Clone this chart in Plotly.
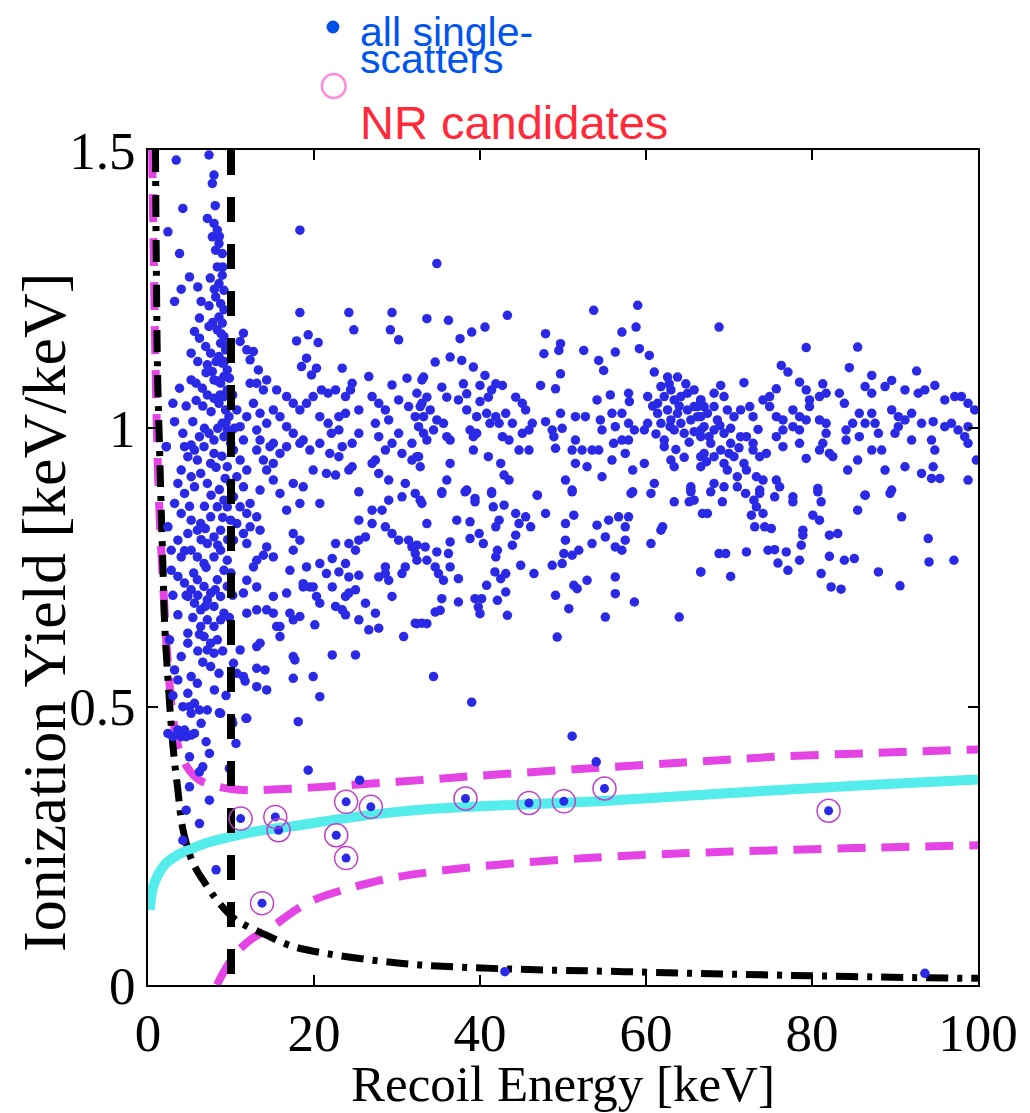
import plotly.graph_objects as go

# ---------------- data ----------------
# single-scatter events, grouped by region (Recoil energy keV, ionization yield)
ss_top_left = [(3.4,1.482),(7.35,1.491),(7.95,1.455),(7.75,1.44),(4.2,1.395),(8.1,1.40),(7.15,1.377),
    (7.95,1.368),(8.35,1.356),(7.75,1.344),(8.55,1.332),(8.15,1.32),(8.95,1.314),(2.4,1.353),(3.8,1.314),
    (8.35,1.29),(8.95,1.275),(8.55,1.26),(9.15,1.248),(8.15,1.236),(8.75,1.224),(9.15,1.213),(8.55,1.2),
    (8.95,1.189),(8.35,1.177),(9.15,1.165),(8.75,1.153),(9.35,1.141),(8.55,1.129),(8.95,1.117),(9.55,1.105),
    (9.15,1.093),(8.75,1.081),(9.55,1.069),(9.15,1.057),(8.55,1.045),(9.35,1.033),(9.75,1.021),(8.95,1.009),
    (9.55,0.997),(9.15,0.985),(9.95,0.973),(5.0,1.272),(6.0,1.254),(4.0,1.25),(3.2,1.228),(6.4,1.228),
    (7.35,1.22),(6.2,1.198),(5.6,1.174),(6.2,1.162),(7.35,1.183),(6.95,1.147),(7.55,1.135),(5.2,1.135),
    (7.15,1.114),(7.75,1.102),(7.95,1.087),(5.2,1.087),(5.8,1.081),(6.55,1.072),(7.15,1.06),(7.95,1.054),
    (3.8,1.072),(3.0,1.045),(3.2,1.012),(5.4,1.012),(4.2,0.991),(6.2,0.985),(7.35,0.991),(7.95,0.979),
    (2.2,0.967),(5.2,0.97),(8.0,1.25),(7.8,1.19),(8.2,1.12),(7.6,1.03),(6.8,1.0),(8.4,1.0),(6.6,1.04),
    (7.0,1.10),(6.0,1.12),(5.8,1.05),(4.6,1.04),(9.6,1.15),(9.8,1.09),(10.2,1.06),(10.4,1.0),
    (8.6,1.345),(9.0,1.29),(8.8,1.17),(9.4,1.01),(8.7,1.06),(9.2,1.12),(8.4,1.085),(7.5,1.27)]

ss_top_mid = [(18.3,1.356),(11.5,1.171),(11.1,1.156),(11.9,1.141),(12.7,1.138),(12.3,1.123),(18.3,1.208),
    (24.2,1.208),(29.4,1.208),(24.8,1.177),(29.2,1.177),(30.2,1.159),(17.9,1.157),(19.3,1.168),(20.5,1.154),
    (19.1,1.126),(18.5,1.111),(20.3,1.108),(19.7,1.096),(13.3,1.105),(13.1,1.081),(13.9,1.069),(12.3,1.081),
    (14.3,1.087),(23.4,1.108),(26.6,1.093),(24.6,1.081),(24.4,1.069),(29.4,1.078),(31.2,1.09),(33.0,1.087),
    (15.5,1.069),(16.7,1.057),(17.5,1.045),(18.3,1.033),(19.1,1.045),(19.9,1.057),(20.9,1.069),(21.7,1.063),
    (22.6,1.069),(23.8,1.057),(12.7,1.045),(13.5,1.027),(11.9,1.021),(14.3,1.009),(13.1,0.997),(15.1,1.033),
    (15.9,1.021),(16.7,1.003),(17.5,0.991),(18.7,0.979),(20.7,1.021),(21.7,1.009),(22.1,0.991),(23.0,1.021),
    (23.8,1.027),(25.4,1.033),(27.0,1.057),(27.8,1.045),(28.6,1.033),(27.4,1.009),(29.0,1.015),(30.2,1.051),
    (31.4,1.039),(32.2,1.021),(33.0,1.045),(32.6,1.003),(30.2,0.991),(27.8,0.985),(25.4,0.991),(24.6,0.973),
    (29.4,0.973),(31.8,0.973),(10.7,1.033),(11.1,1.003),(11.5,0.979),(13.5,0.979),(15.1,0.973),(16.7,0.967),
    (23.0,0.997)]

ss_mid_left = [(2.2,0.967),(4.4,0.967),(5.6,0.961),(6.75,0.967),(7.95,0.955),(7.55,0.937),(5.95,0.943),
    (4.8,0.949),(4.0,0.925),(5.2,0.913),(6.35,0.919),(7.15,0.901),(5.6,0.895),(4.4,0.883),(3.6,0.901),
    (3.2,0.865),(4.0,0.847),(5.2,0.835),(5.95,0.817),(4.8,0.811),(6.35,0.829),(7.55,0.841),(8.35,0.859),
    (9.15,0.871),(8.75,0.817),(7.95,0.805),(7.15,0.793),(2.4,0.823),(3.6,0.799),(2.8,0.781),(4.0,0.769),
    (5.2,0.781),(5.95,0.769),(6.75,0.757),(7.95,0.769),(8.75,0.781),(9.55,0.763),(9.15,0.745),(2.8,0.745),
    (3.6,0.734),(4.4,0.722),(5.2,0.71),(5.95,0.728),(6.75,0.716),(7.55,0.704),(8.35,0.728),(4.8,0.698),
    (5.6,0.686),(6.35,0.674),(7.15,0.692),(7.95,0.68),(8.75,0.698),(9.55,0.716),(3.6,0.665),(4.8,0.632),
    (6.35,0.644),(7.15,0.656),(7.95,0.644),(8.75,0.656),(9.15,0.668),(6.75,0.626),(7.55,0.614),(8.35,0.62),
    (7.15,0.602),(4.8,0.614),(4.0,0.59),(7.95,0.596),(7.55,0.572),(8.55,0.56),(5.2,0.554),(5.95,0.542),
    (4.8,0.524),(5.6,0.506),(5.2,0.488),(3.6,0.548),(3.2,0.566),(7.15,0.494),(8.75,0.488),(4.4,0.458),
    (5.6,0.452),(3.6,0.458),(10.3,0.961),(11.1,0.943),(11.9,0.925),(10.7,0.913),(11.5,0.895),(10.3,0.877),
    (11.1,0.859),(11.9,0.847),(10.7,0.829),(11.5,0.811),(11.9,0.793),(10.3,0.799),(9.55,0.931),(9.95,0.901),
    (9.55,0.859),(9.95,0.835),(2.4,0.452),(4.0,0.446),(5.2,0.449),(8.9,0.95),(9.3,0.91),(8.6,0.89),
    (9.6,0.80),(10.0,0.74),(10.2,0.70),(9.8,0.66),(6.0,0.60),(6.6,0.58),(8.0,0.53),(9.0,0.60),(5.4,0.66),
    (4.4,0.78),(6.8,0.86),(7.6,0.88),(8.2,0.93),(3.0,0.70),(2.6,0.62),(3.0,0.52),(4.2,0.50),(6.4,0.47),
    (9.4,0.52),(6.0,0.70),(6.9,0.68),(8.1,0.71),(5.5,0.74),(7.0,0.75),(6.4,0.80),(8.4,0.79),(9.0,0.84),
    (6.9,0.82),(5.0,0.86),(4.6,0.70),(6.2,0.63)]

ss_mid_right = [(13.1,0.961),(13.9,0.943),(14.3,0.925),(15.1,0.907),(13.5,0.889),(14.7,0.967),(15.9,0.955),
    (15.1,0.937),(12.3,0.865),(13.1,0.841),(13.5,0.817),(12.3,0.823),(14.3,0.787),(15.1,0.769),(13.1,0.763),
    (13.9,0.772),(12.7,0.751),(11.9,0.727),(13.1,0.715),(11.5,0.704),(15.1,0.698),(16.7,0.704),(15.1,0.668),
    (14.3,0.674),(15.9,0.644),(17.5,0.656),(18.3,0.662),(17.1,0.668),(11.9,0.668),(13.1,0.674),(15.9,0.883),
    (16.7,0.853),(18.3,0.865),(18.7,0.895),(20.7,0.865),(17.5,0.901),(17.5,0.811),(18.3,0.799),(17.5,0.781),
    (19.1,0.751),(17.1,0.745),(18.7,0.721),(19.9,0.715),(20.3,0.698),(20.7,0.686),(18.3,0.973),(19.5,0.961),
    (20.7,0.973),(21.9,0.955),(23.4,0.967),(23.0,0.949),(19.9,0.925),(21.5,0.919),(22.6,0.916),(24.2,0.925),
    (24.6,0.931),(27.0,0.937),(27.8,0.919),(25.4,0.886),(27.4,0.943),(28.6,0.961),(30.6,0.955),(31.8,0.943),
    (32.6,0.949),(29.0,0.907),(31.0,0.901),(29.0,0.871),(30.6,0.877),(32.2,0.883),(33.0,0.865),(27.0,0.853),
    (28.2,0.853),(25.4,0.835),(27.0,0.829),(22.6,0.793),(24.2,0.793),(25.4,0.799),(26.2,0.805),(25.0,0.781),
    (28.6,0.823),(29.4,0.811),(30.2,0.799),(31.4,0.799),(31.8,0.787),(32.2,0.775),(20.7,0.757),(22.2,0.766),
    (23.8,0.757),(21.5,0.739),(23.0,0.742),(24.2,0.733),(25.4,0.736),(27.8,0.733),(28.6,0.739),(31.0,0.751),
    (30.6,0.739),(29.0,0.727),(18.7,0.715),(19.5,0.715),(22.2,0.715),(24.2,0.704),(25.0,0.71),(23.8,0.698),
    (22.6,0.68),(23.4,0.674),(23.8,0.665),(27.4,0.668),(26.2,0.686),(28.6,0.751),(29.4,0.698),(25.4,0.656),
    (26.6,0.638),(27.8,0.641),(20.1,0.647),(15.5,0.644),(15.9,0.626),(17.5,0.59),(17.7,0.584),(13.1,0.608),
    (13.5,0.614),(22.2,0.593),(25.0,0.593),(30.8,0.626),(32.2,0.65),(33.0,0.65),(13.1,0.569),(14.1,0.566),
    (11.5,0.554),(11.7,0.546),(13.1,0.536),(14.3,0.53),(17.5,0.551),(19.9,0.554),(20.7,0.518),(18.1,0.473),
    (11.9,0.479),(10.3,0.578),(10.7,0.56),(10.1,0.476),(11.1,0.602)]

ss_low = [(5.0,0.5),(6.2,0.494),(8.6,0.489),(11.8,0.479),(3.0,0.446),(4.6,0.446),(7.0,0.437),(5.0,0.41),
    (7.4,0.416),(6.6,0.392),(6.2,0.383),(9.8,0.389),(7.4,0.332),(4.6,0.314),(5.0,0.356),(6.2,0.29),
    (4.2,0.26),(8.2,0.207),(10.2,0.47),(10.6,0.434),(25.5,0.368),(19.3,0.386),(43.0,0.024),(93.6,0.021),
    (54.0,0.401),(34.4,0.554),(39.0,0.508),(51.1,0.447)]

ss_centre_high = [(34.8,1.296),(33.6,1.197),(36.2,1.194),(37.6,1.161),(39.0,1.173),(40.6,1.182),(43.3,1.203),
    (47.9,1.170),(47.7,1.134),(49.7,1.152),(49.5,1.140),(52.5,1.140),(54.3,1.122),(54.9,1.104),(56.3,1.137),
    (57.1,1.173),(58.8,1.182),(59.0,1.221),(53.7,1.212),(59.2,1.143),(60.4,1.131),(61.0,1.101),(34.6,1.119),
    (36.4,1.128),(37.8,1.122),(39.2,1.110),(40.6,1.095),(41.9,1.080),(42.7,1.077),(41.4,1.069),(33.2,1.092),
    (35.4,1.074),(36.0,1.056),(38.0,1.080),(38.4,1.062),(37.4,1.051),(40.0,1.077),(41.0,1.056),(40.0,1.048),
    (32.4,1.063),(33.6,1.056),(32.8,1.039),(34.0,1.033),(33.2,1.021),(34.8,1.015),(35.6,1.009),(34.4,0.997),
    (33.2,0.991),(33.6,0.979),(36.0,0.985),(36.4,0.979),(38.4,1.033),(39.6,1.021),(40.8,1.027),(41.9,1.021),
    (43.1,1.027),(44.3,1.056),(45.1,1.045),(45.5,1.033),(43.9,1.009),(42.3,1.009),(41.2,1.009),(38.8,0.997),
    (39.6,0.991),(39.2,0.985),(42.7,0.985),(43.5,0.979),(45.1,0.991),(45.9,0.997),(46.3,1.009),(44.7,0.961),
    (45.9,0.961),(47.3,1.077),(49.1,1.071),(49.7,1.098),(49.7,1.027),(47.9,1.012),(48.7,0.997),(49.9,1.000),
    (48.9,0.985),(49.1,0.964),(51.5,1.021),(52.7,1.021),(51.5,0.979),(51.1,0.961),(52.3,0.961),(53.5,0.961),
    (54.3,0.961),(51.5,0.937),(52.9,0.931),(54.1,1.051),(55.7,1.060),(57.9,1.063),(58.0,1.048),(55.9,1.027),
    (57.1,1.027),(54.5,1.015),(54.7,0.997),(56.3,1.003),(57.9,1.009),(58.6,0.997),(59.8,0.997),(60.2,1.009),
    (57.1,0.979),(57.9,0.979),(56.1,0.973),(57.5,0.955),(55.9,0.943),(60.2,1.057),(61.4,1.045),(62.2,1.057),
    (63.0,1.069),(63.8,1.092),(62.6,1.092),(61.8,1.075),(63.4,1.051),(64.2,1.057),(65.0,1.063),(65.8,1.069),
    (66.6,1.051),(61.4,1.027),(62.6,1.033),(63.8,1.027),(65.0,1.033),(66.2,1.039),(61.8,1.009),(63.0,1.015),
    (64.2,1.009),(65.4,1.015),(66.6,1.021),(63.4,0.997),(64.6,0.991),(65.8,0.994),(66.6,0.997),(62.2,0.979),
    (62.2,0.967),(63.0,0.943),(63.4,0.931),(66.6,0.949),(65.4,0.889),(36.4,0.937),(36.0,0.907),(35.4,0.886),
    (38.4,0.889),(41.4,0.886),(39.4,0.874),(42.5,0.937),(42.9,0.916),(43.5,0.907),(46.9,0.880),(50.3,0.907),
    (51.1,0.889),(54.7,0.913),(58.4,0.925),(59.8,0.937),(58.4,0.886),(61.0,0.901),(65.4,0.895),(32.4,0.949),
    (32.8,0.931),(39.2,0.961),(41.0,0.949),(62.9,1.003),(64.0,1.040),(65.2,0.975),(63.6,0.962),(64.6,0.948),
    (61.2,0.990),(60.8,1.040),(62.8,1.080),(64.8,1.080)]

ss_centre_low = [(35.4,0.883),(38.2,0.886),(41.4,0.883),(46.9,0.88),(51.1,0.886),(58.2,0.883),(60.6,0.883),
    (65.4,0.886),(32.8,0.871),(39.4,0.868),(41.6,0.859),(42.9,0.862),(44.3,0.847),(45.5,0.841),(47.9,0.847),
    (51.3,0.844),(63.4,0.868),(65.2,0.868),(66.8,0.847),(33.6,0.829),(37.2,0.835),(38.8,0.832),(41.9,0.823),
    (42.3,0.835),(44.7,0.829),(46.1,0.823),(50.3,0.829),(54.1,0.826),(55.5,0.835),(56.7,0.841),(57.9,0.841),
    (57.5,0.823),(62.0,0.823),(61.8,0.817),(32.4,0.79),(33.4,0.787),(34.8,0.778),(36.4,0.796),(36.2,0.775),
    (38.8,0.802),(39.9,0.811),(40.4,0.793),(42.1,0.781),(41.9,0.769),(43.9,0.79),(44.3,0.808),(50.3,0.799),
    (53.5,0.793),(55.1,0.805),(56.3,0.787),(57.1,0.781),(57.5,0.799),(60.6,0.793),(32.4,0.763),(33.6,0.763),
    (34.6,0.751),(35.0,0.739),(35.6,0.727),(36.4,0.751),(37.4,0.73),(40.8,0.718),(41.8,0.742),(42.5,0.73),
    (43.1,0.739),(44.9,0.754),(46.5,0.739),(48.7,0.754),(49.9,0.757),(50.1,0.775),(51.1,0.772),(51.9,0.781),
    (52.9,0.727),(51.3,0.718),(51.7,0.712),(56.3,0.733),(66.6,0.742),(35.4,0.694),(37.4,0.688),(39.4,0.694),
    (40.2,0.694),(39.8,0.679),(40.0,0.667),(42.1,0.691),(43.1,0.706),(34.6,0.67),(35.2,0.673),(32.4,0.649),
    (33.6,0.649),(43.3,0.664),(49.1,0.7),(50.7,0.676),(56.3,0.703),(58.6,0.688),(55.1,0.661),(64.0,0.661),
    (49.3,0.625)]

ss_right_high = [(68.8,1.182),(79.3,1.145),(85.5,1.146),(76.3,1.113),(77.1,1.101),(84.5,1.109),(87.2,1.095),
    (92.6,1.103),(71.8,1.082),(69.0,1.077),(68.2,1.063),(69.4,1.057),(66.6,1.051),(65.8,1.039),(67.0,1.039),
    (68.2,1.039),(75.7,1.071),(74.9,1.057),(74.1,1.051),(78.5,1.083),(79.3,1.069),(79.7,1.051),(81.3,1.080),
    (81.7,1.063),(80.9,1.057),(83.3,1.063),(83.9,1.045),(86.4,1.075),(87.2,1.063),(88.8,1.075),(89.6,1.086),
    (91.2,1.069),(92.8,1.063),(93.6,1.069),(94.8,1.077),(96.0,1.051),(97.2,1.057),(98.0,1.057),(98.8,1.045),
    (99.6,1.033),(66.2,1.021),(67.4,1.027),(68.6,1.015),(69.8,1.033),(70.6,1.021),(71.4,1.033),(72.5,1.039),
    (72.9,1.021),(67.0,1.003),(68.2,0.997),(69.4,0.991),(66.6,0.985),(67.8,0.973),(69.0,0.961),(70.2,0.973),
    (71.4,0.985),(72.1,0.985),(72.9,0.973),(67.0,0.955),(68.2,0.949),(69.4,0.937),(70.6,0.949),(71.8,0.937),
    (72.9,0.961),(73.7,0.949),(74.5,0.955),(69.8,0.925),(71.0,0.913),(72.1,0.925),(73.3,0.913),(74.1,0.907),
    (75.7,0.907),(76.1,0.895),(69.4,0.895),(71.0,0.895),(73.7,0.889),(68.2,0.901),(66.6,0.931),(74.9,1.039),
    (75.7,1.021),(76.5,1.015),(77.7,1.033),(78.5,1.021),(77.7,1.003),(76.5,0.997),(78.5,0.997),(79.3,1.015),
    (79.7,1.039),(75.7,0.985),(76.5,0.967),(78.5,0.973),(79.3,0.946),(80.9,1.015),(81.7,1.009),(81.7,0.991),
    (81.3,0.973),(80.9,0.961),(82.1,0.955),(82.5,0.949),(84.1,0.997),(84.9,1.009),(85.7,1.027),(86.4,1.009),
    (87.2,1.027),(87.6,1.009),(88.0,0.991),(84.1,0.979),(85.7,0.985),(87.2,0.961),(88.4,0.961),(85.5,0.943),
    (84.3,0.925),(88.8,0.925),(89.6,1.033),(90.4,1.021),(91.2,1.015),(92.0,1.027),(90.4,1.003),(90.0,0.991),
    (92.0,0.979),(93.2,1.009),(94.6,1.012),(94.4,0.979),(94.8,0.961),(96.0,1.003),(96.8,1.009),(97.6,0.997),
    (98.4,0.985),(98.8,1.003),(98.8,0.973),(91.2,0.931),(93.2,0.919),(94.6,0.931),(94.4,0.910),(95.4,0.910),
    (98.8,0.907),(99.8,0.943),(89.6,0.889),(86.4,0.880),(80.7,0.892),(67.6,0.985),(68.9,1.005),(70.0,0.955),
    (71.2,0.965),(70.2,1.000),(73.5,0.998),(67.3,0.940)]

ss_right_low = [(65.8,0.871),(67.8,0.886),(69.2,0.868),(67.4,0.847),(72.0,0.883),(73.0,0.871),(73.7,0.883),
    (73.3,0.859),(72.7,0.844),(74.1,0.847),(75.5,0.877),(77.7,0.877),(77.7,0.868),(80.7,0.886),(81.1,0.868),
    (85.5,0.853),(86.4,0.88),(89.4,0.883),(90.8,0.841),(80.1,0.844),(80.9,0.835),(78.9,0.817),(78.9,0.808),
    (82.1,0.808),(83.1,0.811),(73.1,0.823),(74.3,0.823),(75.1,0.82),(78.7,0.79),(94.0,0.802),(69.6,0.775),
    (68.8,0.775),(72.1,0.778),(74.7,0.781),(75.5,0.782),(76.9,0.778),(78.5,0.763),(75.9,0.758),(77.1,0.745),
    (82.1,0.77),(83.9,0.763),(85.1,0.766),(81.1,0.739),(66.6,0.742),(70.2,0.734),(88.0,0.742),(82.3,0.715),
    (83.5,0.711),(90.6,0.717),(94.1,0.76),(97.1,0.763)]

# nuclear-recoil candidates
cand_E = [11.16, 15.34, 15.73, 22.68, 23.87, 23.87, 26.85, 13.74, 38.25, 45.9, 50.1, 55.0, 82.0]
cand_Y = [0.299, 0.302, 0.278, 0.269, 0.329, 0.228, 0.320, 0.147, 0.335, 0.327, 0.330, 0.353, 0.313]

# NR band centre (cyan)
nr_mid_E = [0.2, 0.6, 1.2, 2.2, 3.5, 5, 7, 9.8, 13, 16.9, 20, 24.9, 30, 34.8, 40, 52.8, 65, 75.6, 88, 100]
nr_mid_Y = [0.135, 0.175, 0.198, 0.219, 0.233, 0.243, 0.255, 0.266, 0.276, 0.284, 0.291, 0.302, 0.311,
            0.317, 0.321, 0.329, 0.340, 0.350, 0.360, 0.369]
# NR band upper edge (magenta)
nr_hi_E = [0.5, 0.7, 0.9, 1.1, 1.3, 1.6, 1.9, 2.2, 2.6, 3.0, 3.8, 5, 6.2, 8, 10, 12, 15, 20, 30, 40,
           52.8, 65, 75.6, 88, 97.5, 100]
nr_hi_Y = [1.5, 1.3, 1.12, 0.98, 0.88, 0.78, 0.70, 0.62, 0.54, 0.48, 0.42, 0.385, 0.368, 0.358, 0.352,
           0.350, 0.351, 0.355, 0.365, 0.376, 0.389, 0.400, 0.410, 0.417, 0.422, 0.423]
# NR band lower edge (magenta)
nr_lo_E = [8.3, 9.0, 9.8, 10.6, 12.5, 15, 17.5, 20, 25, 30, 40, 52.8, 65, 75.6, 88, 100]
nr_lo_Y = [0.0, 0.02, 0.04, 0.057, 0.083, 0.105, 0.132, 0.153, 0.177, 0.194, 0.213, 0.228, 0.237,
           0.242, 0.247, 0.251]
# ionization threshold (black dash-dot)
ion_th_E = [0.9, 1.0, 1.15, 1.4, 1.6, 1.8, 2.0, 2.4, 3.0, 3.6, 4.2, 5.4, 7, 8.6, 10.6, 14.2, 17.3,
            21.3, 26.8, 32.8, 43, 57.4, 75, 98.4, 100]
ion_th_Y = [1.5, 1.3, 1.1, 0.96, 0.85, 0.75, 0.65, 0.55, 0.43, 0.35, 0.28, 0.22, 0.18, 0.147, 0.117,
            0.09, 0.07, 0.057, 0.045, 0.036, 0.029, 0.024, 0.018, 0.012, 0.012]
# recoil energy threshold (black dashed)
er_th_E = [10, 10]
er_th_Y = [1.5, 0]

x_ticks = [0, 20, 40, 60, 80, 100]
y_ticks = [0, 0.5, 1, 1.5]
y_tick_text = ["0", "0.5", "1", "1.5"]

# ---------------- figure ----------------
all_ss = (ss_top_left + ss_top_mid + ss_mid_left + ss_mid_right + ss_low +
          ss_centre_high + ss_centre_low + ss_right_high + ss_right_low)
ss_E = [p[0] for p in all_ss]
ss_Y = [p[1] for p in all_ss]

BLUE = "#2a2ae6"
MAG = "#e444e4"
SERIF = "Liberation Serif"

fig = go.Figure()
fig.add_trace(go.Scatter(x=nr_mid_E, y=nr_mid_Y, mode="lines",
                         line=dict(color="#55ecec", width=10, shape="spline")))
fig.add_trace(go.Scatter(x=nr_hi_E, y=nr_hi_Y, mode="lines",
                         line=dict(color=MAG, width=8, dash="28px,16px", shape="spline")))
fig.add_trace(go.Scatter(x=nr_lo_E, y=nr_lo_Y, mode="lines",
                         line=dict(color=MAG, width=8, dash="28px,16px", shape="spline")))
fig.add_trace(go.Scatter(x=ion_th_E, y=ion_th_Y, mode="lines",
                         line=dict(color="black", width=7, dash="22px,9px,5px,9px", shape="spline")))
fig.add_trace(go.Scatter(x=ss_E, y=ss_Y, mode="markers",
                         marker=dict(color=BLUE, size=9.5, line=dict(width=0))))
fig.add_trace(go.Scatter(x=er_th_E, y=er_th_Y, mode="lines",
                         line=dict(color="black", width=8, dash="25px,22px")))
fig.add_trace(go.Scatter(x=cand_E, y=cand_Y, mode="markers",
                         marker=dict(color=BLUE, size=9, line=dict(width=0))))
fig.add_trace(go.Scatter(x=cand_E, y=cand_Y, mode="markers",
                         marker=dict(symbol="circle-open", size=23, color="#c040c8",
                                     line=dict(width=1.5, color="#c040c8"))))

axis_common = dict(showline=True, linecolor="black", linewidth=2, mirror="ticks",
                   ticks="inside", ticklen=10, tickwidth=1.5, tickcolor="black",
                   showgrid=False, zeroline=False,
                   tickfont=dict(family=SERIF, size=53, color="black"))

# the page body adds an 8px margin, so the figure is 8px smaller than the window
fig.update_layout(
    width=1022, height=1105, autosize=False,
    margin=dict(l=140, r=43, t=142, b=128),
    paper_bgcolor="white", plot_bgcolor="white",
    showlegend=False,
    xaxis=dict(range=[0, 100], tickvals=x_ticks, **axis_common),
    yaxis=dict(range=[0, 1.5], tickvals=y_ticks, ticktext=y_tick_text, **axis_common),
)

# axis titles
fig.add_annotation(text="Recoil Energy [keV]", xref="paper", yref="paper", x=0.5, y=-0.119,
                   xanchor="center", yanchor="middle", showarrow=False,
                   font=dict(family=SERIF, size=51, color="black"))
fig.add_annotation(text="Ionization Yield [keV/keV]", xref="paper", yref="paper", x=-0.125, y=0.447,
                   xanchor="center", yanchor="middle", showarrow=False, textangle=-90,
                   font=dict(family=SERIF, size=62, color="black"))

# legend-like labels above the plot
LEG_FONT = "Liberation Sans"
fig.add_annotation(text="all single-", xref="paper", yref="paper", x=0.2527, y=1.1419,
                   xanchor="left", yanchor="middle", showarrow=False,
                   font=dict(family=LEG_FONT, size=41, color="#0055ee"))
fig.add_annotation(text="scatters", xref="paper", yref="paper", x=0.2527, y=1.1094,
                   xanchor="left", yanchor="middle", showarrow=False,
                   font=dict(family=LEG_FONT, size=41, color="#0055ee"))
fig.add_annotation(text="NR candidates", xref="paper", yref="paper", x=0.2527, y=1.0325,
                   xanchor="left", yanchor="middle", showarrow=False,
                   font=dict(family=LEG_FONT, size=47, color="#ff2a3a"))
fig.add_shape(type="circle", xref="paper", yref="paper", x0=0.2151, x1=0.2306, y0=1.1395, y1=1.1551,
              fillcolor="#0050e8", line=dict(width=0))
fig.add_shape(type="circle", xref="paper", yref="paper", x0=0.2095, x1=0.2381, y0=1.0623, y1=1.0910,
              fillcolor="rgba(0,0,0,0)", line=dict(width=2.5, color="#ff88dd"))

fig.write_html("out.html")
